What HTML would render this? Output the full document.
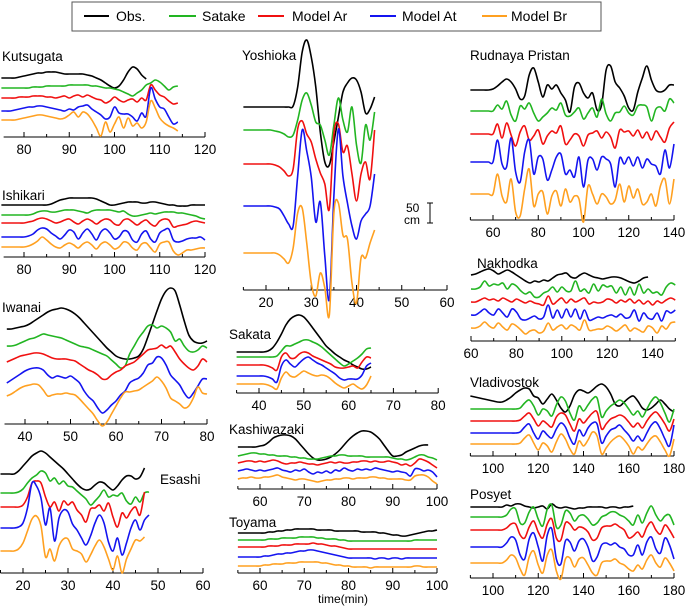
<!DOCTYPE html>
<html><head><meta charset="utf-8"><style>
html,body{margin:0;padding:0;background:#fff;}
svg{display:block;font-family:"Liberation Sans",sans-serif;}
</style></head><body>
<svg id="chart" width="685" height="606" viewBox="0 0 685 606" xmlns="http://www.w3.org/2000/svg">
<g>
<rect x="72" y="2" width="529" height="29" fill="#fff" stroke="#555" stroke-width="1"/>
<g><line x1="84" y1="16" x2="109" y2="16" stroke="#000" stroke-width="2"/><text x="116" y="21" font-size="14">Obs.</text></g>
<g><line x1="169" y1="16" x2="196" y2="16" stroke="#22b522" stroke-width="2"/><text x="202" y="21" font-size="14">Satake</text></g>
<g><line x1="258" y1="16" x2="284" y2="16" stroke="#f01010" stroke-width="2"/><text x="292" y="21" font-size="14">Model Ar</text></g>
<g><line x1="370" y1="16" x2="396" y2="16" stroke="#1414f0" stroke-width="2"/><text x="402" y="21" font-size="14">Model At</text></g>
<g><line x1="482" y1="16" x2="507" y2="16" stroke="#ffa020" stroke-width="2"/><text x="511" y="21" font-size="14">Model Br</text></g>
</g>
<g>
<line x1="430" y1="203" x2="430" y2="223" stroke="#000" stroke-width="1"/>
<line x1="427" y1="203" x2="433" y2="203" stroke="#000" stroke-width="1"/>
<line x1="427" y1="223" x2="433" y2="223" stroke="#000" stroke-width="1"/>
<text x="406" y="212" font-size="12">50</text><text x="404" y="224" font-size="12">cm</text>
</g>
<text x="343" y="603" font-size="12" text-anchor="middle">time(min)</text>
</svg>
<script>
// ---------- data (amplitude, arbitrary units; 1 unit ≈ 1 px) ----------
const kutsugataT0 = 75, kutsugataDt = 1;
const kutsugataObs = [0,0,0,0,1,2,3,4,5,5,6,6,6,5,4,4,4,4,4,3,2,0,-2,-5,-8,-10,-8,-2,6,11,9,3,-1];
const kutsugataSatake = [0,0,0,0,0,0,0,1,1,1,2,2,2,2,2,3,3,3,3,3,2,2,1,0,0,-1,-2,-4,-6,-8,-5,-2,3,5,8,6,2,-2,1,2];
const kutsugataAr = [0,0,0,0,1,1,1,2,2,2,1,1,0,1,2,0,2,3,1,3,1,-1,-2,-5,-3,1,-2,-4,-2,-1,-4,0,-2,13,8,3,1,-3,-6,-5];
const kutsugataAt = [0,0,0,1,2,3,4,4,5,5,4,3,2,1,0,2,1,4,5,6,2,-1,-4,-8,-6,4,-2,-3,-3,-6,-10,-2,-5,23,12,4,2,-6,-13,-11];
const kutsugataBr = [0,0,0,0,1,2,3,4,5,5,4,3,2,1,2,5,8,3,8,6,0,-8,-16,-2,-12,-4,3,-8,2,-6,-3,-8,-2,19,12,2,-3,-6,-8,-11];

const ishikariT0 = 75, ishikariDt = 1;
const ishikariObs = [0,0,0,0,0,0,0,0,0,0,0,1,3,5,6,7,7,7,7,7,7,6,4,2,0,0,1,2,3,3,3,2,2,3,3,2,1,0,0,-1,-1,-1,0,0,0,0];
const ishikariSatake = [0,0,0,0,0,0,0,1,3,4,4,3,3,4,5,5,5,4,3,2,4,5,5,5,5,4,3,4,1,-1,-1,0,1,2,1,2,3,3,3,2,2,1,0,-1,-3,-4];
const ishikariAr = [0,0,0,0,0,0,1,2,4,5,4,2,0,1,3,4,1,-1,2,4,2,-1,2,4,3,-1,-2,3,4,1,-2,1,3,-1,-3,2,4,3,-4,-3,-2,-1,1,2,1,0];
const ishikariAt = [0,0,0,0,0,0,1,3,7,9,8,4,1,-2,2,7,5,-2,4,8,3,-3,5,8,4,-2,0,6,5,-3,-5,3,6,-2,-5,4,7,8,-3,-5,-4,-2,-1,-1,0,-3];
const ishikariBr = [0,0,0,0,0,0,1,3,6,10,7,3,0,-1,2,4,2,-1,3,5,2,-2,3,5,2,-2,0,5,4,-1,-3,3,4,-1,-5,3,5,5,-4,-8,-6,-3,-3,-2,-1,-1];

const iwanaiT0 = 36, iwanaiDt = 1;
const iwanaiObs = [0,0,1,2,3,5,8,11,14,17,19,20,21,20,18,15,11,6,1,-4,-9,-14,-19,-23,-27,-29,-30,-30,-29,-27,-20,-8,5,18,30,38,41,38,24,8,-6,-12,-14,-14,-12];
const iwanaiSatake = [0,0,1,3,5,7,8,10,12,11,10,9,8,6,4,2,0,-1,-2,-4,-6,-8,-10,-14,-18,-22,-20,-8,0,8,14,20,21,18,20,18,14,5,7,0,-5,-6,-4,0,-2];
const iwanaiAr = [0,2,4,6,7,8,9,9,8,6,4,3,3,3,2,1,-2,-5,-8,-10,-13,-17,-17,-13,-10,-8,-4,-2,0,4,8,12,13,14,17,14,16,10,3,-2,-6,-8,-4,3,0];
const iwanaiAt = [0,3,6,9,12,14,15,15,13,8,5,7,6,5,7,4,0,-8,-14,-18,-25,-30,-27,-22,-18,-12,-8,0,3,5,10,18,20,26,25,18,8,3,-2,-10,-15,-10,-3,4,4];
const iwanaiBr = [0,2,5,8,10,11,12,11,6,0,1,2,2,3,2,1,-3,-8,-13,-18,-25,-30,-26,-18,-10,-2,4,4,5,6,9,12,15,19,15,8,-2,-5,-8,-12,-10,-2,9,3,2];

const esashiT0 = 15, esashiDt = 1;
const esashiObs = [0,0,0,0,3,8,13,18,21,23,21,17,13,9,5,0,-5,-10,-14,-16,-15,-11,-8,-9,-13,-16,-12,-6,-2,-2,-5,-3,6];
const esashiSatake = [0,0,0,0,1,4,10,15,18,22,20,12,15,9,12,7,6,2,-2,-6,-12,-8,-3,3,-4,-2,-3,0,-8,-11,-4,-9,0,1];
const esashiAr = [0,0,0,0,0,2,10,24,26,24,10,0,5,-4,6,2,5,-3,-8,-15,-2,-1,2,-4,4,-10,-20,-6,-11,-4,0,-8,15];
const esashiAt = [0,0,0,0,1,5,20,45,42,30,3,20,-13,10,18,16,4,-2,-10,-17,-8,5,13,5,-14,-23,-10,-27,-15,0,8,-2,8,13];
const esashiBr = [0,0,0,0,2,8,20,32,35,25,-6,2,-10,5,12,12,2,0,-3,-11,-4,5,11,4,-8,-19,-5,-22,-8,2,11,10,14];

const yoshiokaT0 = 15, yoshiokaDt = 1;
const yoshiokaObs = [0,0,0,0,0,0,0,0,0,0,0,1,20,55,67,50,20,-25,-55,-58,-35,-10,15,24,29,27,15,-6,-2,10];
const yoshiokaSatake = [0,0,0,0,0,0,0,-1,-2,-4,-7,-5,10,30,37,25,8,5,-10,-25,5,32,10,-2,23,-15,-33,5,-10,18];
const yoshiokaAr = [0,0,0,0,0,0,0,-1,-3,-7,-12,-5,35,43,30,22,5,-9,-20,-45,30,40,12,18,-10,-37,-10,2,-15,34];
const yoshiokaAt = [0,0,0,0,0,0,0,-1,-3,-10,-18,-20,30,76,55,29,-16,4,-50,-93,10,77,30,3,-20,-33,-15,-8,0,32];
const yoshiokaBr = [0,0,0,0,0,0,0,0,-2,-6,-10,5,40,45,10,-30,-43,-20,-35,-62,40,50,18,14,-30,-50,-5,-5,10,23];

const sakataT0 = 35, sakataDt = 1;
const sakataObs = [0,0,0,0,0,0,0,1,4,10,18,27,33,36,37,35,30,24,18,12,6,2,-2,-5,-8,-10,-13,-15,-17,-17,-15];
const sakataSatake = [0,0,0,0,0,0,0,0,0,1,6,11,11,13,15,17,17,15,13,10,6,2,-2,-6,-9,-7,-4,-1,3,8,9];
const sakataAr = [0,0,0,0,0,0,0,-1,-3,-5,8,12,7,7,11,13,12,9,7,5,3,1,-2,-3,-3,-2,-1,-3,3,8,7];
const sakataAt = [0,0,0,0,0,0,0,-1,-3,-6,10,16,12,9,13,17,19,16,13,11,8,5,2,-2,-4,-3,-3,-3,1,10,13];
const sakataBr = [0,0,0,0,0,0,0,-1,-3,-5,6,12,8,7,10,13,11,9,8,9,8,5,1,-2,-4,-2,0,-3,-5,-1,8];

const kashiwazakiT0 = 55, kashiwazakiDt = 1;
const kashiwazakiObs = [0,0,0,0,0,1,2,5,9,11,12,12,11,8,3,-2,-7,-11,-13,-13,-12,-10,-7,-3,2,7,11,14,16,16,15,12,8,2,-4,-9,-9,-8,-5,-3,-1,1,2,2];
const kashiwazakiSatake = [0,1,2,3,3,2,2,1,1,0,0,0,-1,-1,-2,-2,-3,-3,-3,-2,-1,0,0,1,1,0,0,0,0,-1,-1,-1,-1,-1,-1,-2,-3,-3,-4,-3,-1,1,1,-1,-2,-4];
const kashiwazakiAr = [0,1,2,2,1,2,1,2,3,2,0,-1,0,0,1,0,-1,-1,-2,-1,0,1,0,1,0,0,1,1,2,2,1,2,1,1,2,1,0,-2,-1,-3,0,4,3,1,-2,-5];
const kashiwazakiAt = [0,1,2,1,0,1,0,1,2,3,1,0,-1,1,0,2,-1,-3,-1,-2,0,-2,1,0,3,1,0,2,1,2,1,3,2,1,0,-1,0,-1,-2,-5,2,2,0,1,-1,-6];
const kashiwazakiBr = [0,1,1,2,1,1,2,2,3,4,2,1,0,-1,0,0,-1,-2,-3,-2,-1,-1,0,0,1,1,0,1,1,1,2,2,1,1,0,0,0,0,-1,-1,3,4,4,2,-2,-5];

const toyamaT0 = 55, toyamaDt = 1;
const toyamaObs = [0,0,0,0,0,0,0,1,1,2,2,3,3,4,4,4,4,4,3,3,3,3,2,2,2,2,2,2,1,1,1,1,0,0,-1,-2,-2,-3,-3,-2,-1,0,1,2,2,3];
const toyamaSatake = [0,0,0,0,0,0,0,1,1,1,2,2,2,2,3,3,3,3,2,2,1,1,1,0,0,-1,-1,-1,-1,-1,-1,-1,-1,-1,-1,-1,-1,-1,-1,-1,0,0,0,0,0,0];
const toyamaAr = [0,0,0,0,0,0,0,1,1,1,2,2,2,3,3,3,3,4,3,3,2,1,1,0,-1,-2,-2,-2,-2,-2,-2,-2,-2,-2,-2,-2,-2,-2,-2,-2,-2,-2,-2,-2,-2,-2];
const toyamaAt = [0,0,0,0,0,0,1,1,2,3,3,4,4,5,6,6,7,7,6,5,4,3,2,1,0,-1,-1,-1,-1,-1,-1,-2,-1,-1,-2,-1,-1,-2,-1,-1,-1,-1,-1,-1,-1,-1];
const toyamaBr = [0,0,0,0,0,0,1,1,2,2,2,3,3,3,4,4,4,4,4,3,3,2,1,1,0,0,-1,-1,-1,-1,-2,-1,-1,-1,-1,-1,-1,-1,-1,-1,0,0,-1,-1,-1,-1];

const rudnayaT0 = 50, rudnayaDt = 2;
const rudnayaObs = [0,0,0,0,0,1,4,8,11,8,1,-9,-6,15,22,8,-7,5,1,5,-3,-10,-22,3,7,-3,-8,-3,-20,-15,20,24,8,2,-6,-18,-20,-2,12,24,10,0,-2,0,5,5];
const rudnayaSatake = [0,0,0,0,0,0,6,2,10,-4,-10,5,2,8,-2,-10,-6,-2,3,1,8,-4,-5,-1,3,-8,-2,3,-6,12,-3,-10,-2,-1,5,-2,-4,5,6,4,-10,2,4,0,12,8];
const rudnayaAr = [0,0,0,0,0,0,10,-4,11,-1,-12,2,8,-6,-2,4,-10,-2,3,1,8,-10,-6,0,-2,-12,-1,1,3,-4,2,-3,-14,4,2,3,-2,4,-4,2,-6,3,-3,-8,6,12];
const rudnayaAt = [0,0,0,0,0,0,22,-2,-5,24,-10,-20,10,22,-12,5,3,-18,-8,5,8,-12,-8,-15,5,-25,2,3,-8,5,3,-2,-25,4,-2,5,-4,5,-6,3,-2,-4,-12,12,-6,18];
const rudnayaBr = [0,0,0,0,0,0,20,-2,-8,15,-18,-22,5,25,-12,0,2,-20,-2,3,-12,5,-8,-2,-5,-28,8,0,-10,0,-3,-10,-6,10,-8,8,-4,5,-10,-8,0,-12,8,15,-10,15];

const nakhodkaT0 = 60, nakhodkaDt = 2;
const nakhodkaObs = [0,1,3,5,6,4,1,3,5,3,0,-3,-6,-8,-6,-7,-5,-6,-3,0,1,2,-2,-3,0,2,0,-2,-3,-4,-3,-2,-2,-3,-5,-7,-8,-6,-3,-2];
const nakhodkaSatake = [0,0,2,8,3,5,4,6,0,5,3,-2,-5,-3,-8,-8,-4,-2,2,-3,2,-2,-2,8,-2,0,-4,5,-2,4,2,3,-4,2,-6,2,-6,5,-4,0,-4,-3,-6,2,6,4];
const nakhodkaAr = [0,0,2,4,2,3,1,4,2,0,3,1,-1,1,-1,-2,-3,6,-2,1,4,-1,3,0,2,4,-2,0,-1,0,3,2,-1,2,0,3,-1,2,-2,1,-3,1,-1,2,4,2];
const nakhodkaAt = [0,0,3,6,2,0,6,2,-2,6,3,-4,-5,-3,-1,-4,-2,10,-3,5,-3,6,-2,6,-4,5,-5,-4,-2,-3,-1,0,-2,1,-3,-2,5,-6,2,-3,-4,2,-6,4,2,5];
const nakhodkaBr = [0,0,2,6,2,0,5,1,-2,4,2,-2,-6,-3,-2,-5,-3,5,-2,1,3,-1,3,1,-2,8,-2,-2,-1,-1,2,0,-3,0,3,-3,0,-2,-4,2,0,-5,2,-1,5,6];

const vladivostokT0 = 90, vladivostokDt = 2;
const vladivostokObs = [0,-1,-2,-3,-4,-5,-6,-6,-4,-1,3,6,8,7,0,-2,-8,-3,2,-4,-12,-16,-10,1,6,5,3,6,10,12,9,2,-8,-10,-6,-2,0,-5,-12,-14,-12,-8,-4,-8,-13,-16];
const vladivostokSatake = [0,0,0,0,0,0,0,0,0,0,0,1,6,9,3,-6,0,-2,-7,4,12,8,-4,-11,3,-2,4,10,11,-8,-2,3,6,9,6,0,-6,-2,-8,0,8,12,6,-4,-13,0];
const vladivostokAr = [0,0,0,0,0,0,0,0,0,0,0,1,5,8,2,-5,0,-3,-6,4,8,6,-3,-10,2,-2,3,8,9,-8,-3,2,4,6,4,-1,-6,-2,-7,0,6,9,4,-3,-10,2];
const vladivostokAt = [0,0,0,0,0,0,0,0,0,0,0,1,6,9,0,-6,2,-2,-5,4,10,6,-5,-11,3,-3,5,10,9,-10,-3,3,5,8,3,-2,-8,-3,-8,0,8,11,4,-6,-13,8];
const vladivostokBr = [0,0,0,0,0,0,0,0,0,0,0,1,6,9,1,-6,1,-2,-8,2,10,5,-5,-10,3,-2,4,12,8,-10,-4,2,6,8,4,-2,-10,-3,-6,0,6,8,2,-6,-12,5];

const posyetT0 = 90, posyetDt = 2;
const posyetObs = [0,0,0,0,0,0,0,0,2,1,3,3,1,0,-1,0,1,-2,3,0,-1,0,-1,-2,-1,-1,0,0,0,0,-1,0,0,-1,0,0,1];
const posyetSatake = [0,0,0,0,0,0,0,0,2,8,8,-6,-6,5,10,-2,-9,8,12,-10,-8,6,4,-4,1,2,-2,-8,-6,0,2,5,5,2,0,-4,-8,2,-6,4,11,2,-4,1,2,-8];
const posyetAr = [0,0,0,0,0,0,0,0,2,6,6,-5,-8,3,9,-2,-8,6,11,-8,-10,7,6,0,3,2,-2,-10,-8,2,4,4,6,3,0,-8,-6,-2,-7,3,8,0,-4,5,0,-8];
const posyetAt = [0,0,0,0,0,0,0,0,4,10,7,-8,-12,8,14,0,-14,12,18,-12,-17,6,5,-4,6,8,0,-14,-10,2,4,2,4,0,-2,-8,-8,2,-8,5,10,-2,-6,9,2,-12];
const posyetBr = [0,0,0,0,0,0,0,0,3,8,5,-6,-12,6,12,-2,-10,8,13,-8,-16,4,5,-4,4,5,-2,-10,-12,0,2,2,4,0,-2,-6,-8,-2,-6,3,8,0,-4,5,0,-8];

// ---------- layout ----------
const COLORS = {obs:"#000000", satake:"#22b522", ar:"#f01010", at:"#1414f0", br:"#ffa020"};
const panels = [
 {id:"kutsugata", title:"Kutsugata", tx:2, ty:61, t0:kutsugataT0, dt:kutsugataDt, ref:80, refX:24, k:4.525, axMin:75.5, axMax:120, axY:137, lab:10, minor:5,
  base:{obs:78,satake:88,ar:98,at:111,br:120}, data:{obs:kutsugataObs,satake:kutsugataSatake,ar:kutsugataAr,at:kutsugataAt,br:kutsugataBr}},
 {id:"ishikari", title:"Ishikari", tx:2, ty:200, t0:ishikariT0, dt:ishikariDt, ref:80, refX:24, k:4.525, axMin:75.5, axMax:120, axY:257, lab:10, minor:5,
  base:{obs:205,satake:215,ar:223,at:237,br:247}, data:{obs:ishikariObs,satake:ishikariSatake,ar:ishikariAr,at:ishikariAt,br:ishikariBr}},
 {id:"iwanai", title:"Iwanai", tx:2, ty:312, t0:iwanaiT0, dt:iwanaiDt, ref:40, refX:25, k:4.55, axMin:35.5, axMax:80, axY:424, lab:10, minor:5,
  base:{obs:329,satake:346,ar:362,at:383,br:396}, data:{obs:iwanaiObs,satake:iwanaiSatake,ar:iwanaiAr,at:iwanaiAt,br:iwanaiBr}},
 {id:"esashi", title:"Esashi", tx:160, ty:484, t0:esashiT0, dt:esashiDt, ref:20, refX:23, k:4.5, axMin:15, axMax:60, axY:573, lab:10, minor:5,
  base:{obs:474,satake:493,ar:507,at:528,br:551}, data:{obs:esashiObs,satake:esashiSatake,ar:esashiAr,at:esashiAt,br:esashiBr}},
 {id:"yoshioka", title:"Yoshioka", tx:242, ty:60, t0:yoshiokaT0, dt:yoshiokaDt, ref:20, refX:266, k:4.525, axMin:15, axMax:60, axY:290, lab:10, minor:5,
  base:{obs:107,satake:130,ar:164,at:206,br:253}, data:{obs:yoshiokaObs,satake:yoshiokaSatake,ar:yoshiokaAr,at:yoshiokaAt,br:yoshiokaBr}},
 {id:"sakata", title:"Sakata", tx:229, ty:339, t0:sakataT0, dt:sakataDt, ref:40, refX:259, k:4.48, axMin:35, axMax:80, axY:393, lab:10, minor:5,
  base:{obs:352,satake:357,ar:365,at:376,br:384}, data:{obs:sakataObs,satake:sakataSatake,ar:sakataAr,at:sakataAt,br:sakataBr}},
 {id:"kashiwazaki", title:"Kashiwazaki", tx:229, ty:434, t0:kashiwazakiT0, dt:kashiwazakiDt, ref:60, refX:260, k:4.425, axMin:55, axMax:100, axY:489, lab:10, minor:5,
  base:{obs:447,satake:456,ar:463,at:471,br:479}, data:{obs:kashiwazakiObs,satake:kashiwazakiSatake,ar:kashiwazakiAr,at:kashiwazakiAt,br:kashiwazakiBr}},
 {id:"toyama", title:"Toyama", tx:229, ty:527, t0:toyamaT0, dt:toyamaDt, ref:60, refX:260, k:4.425, axMin:55, axMax:100, axY:573, lab:10, minor:5,
  base:{obs:533,satake:540,ar:547,at:557,br:566}, data:{obs:toyamaObs,satake:toyamaSatake,ar:toyamaAr,at:toyamaAt,br:toyamaBr}},
 {id:"rudnaya-pristan", title:"Rudnaya Pristan", tx:470, ty:60, t0:rudnayaT0, dt:rudnayaDt, ref:60, refX:493, k:2.2625, axMin:50, axMax:140, axY:220, lab:20, minor:10,
  base:{obs:90,satake:111,ar:134,at:162,br:194}, data:{obs:rudnayaObs,satake:rudnayaSatake,ar:rudnayaAr,at:rudnayaAt,br:rudnayaBr}},
 {id:"nakhodka", title:"Nakhodka", tx:477, ty:268, t0:nakhodkaT0, dt:nakhodkaDt, ref:60, refX:471, k:2.27, axMin:60, axMax:150, axY:341, lab:20, minor:10,
  base:{obs:275,satake:289,ar:302,at:315,br:328}, data:{obs:nakhodkaObs,satake:nakhodkaSatake,ar:nakhodkaAr,at:nakhodkaAt,br:nakhodkaBr}},
 {id:"vladivostok", title:"Vladivostok", tx:470, ty:387, t0:vladivostokT0, dt:vladivostokDt, ref:100, refX:493, k:2.2625, axMin:90, axMax:180, axY:456, lab:20, minor:10,
  base:{obs:396,satake:409,ar:421,at:433,br:444}, data:{obs:vladivostokObs,satake:vladivostokSatake,ar:vladivostokAr,at:vladivostokAt,br:vladivostokBr}},
 {id:"posyet", title:"Posyet", tx:470, ty:499, t0:posyetT0, dt:posyetDt, ref:100, refX:493, k:2.2625, axMin:90, axMax:180, axY:578, lab:20, minor:10,
  base:{obs:507,satake:517,ar:530,at:547,br:563}, data:{obs:posyetObs,satake:posyetSatake,ar:posyetAr,at:posyetAt,br:posyetBr}}
];
const NS = "http://www.w3.org/2000/svg";
const svg = document.getElementById("chart");
function mk(tag, attrs){ const e=document.createElementNS(NS,tag); for(const k in attrs) e.setAttribute(k,attrs[k]); return e; }
function smoothPath(pts){
  if(pts.length<2) return "";
  let d="M"+pts[0][0].toFixed(2)+","+pts[0][1].toFixed(2);
  for(let i=0;i<pts.length-1;i++){
    const p0=pts[Math.max(0,i-1)], p1=pts[i], p2=pts[i+1], p3=pts[Math.min(pts.length-1,i+2)];
    const c1x=p1[0]+(p2[0]-p0[0])/6, c1y=p1[1]+(p2[1]-p0[1])/6;
    const c2x=p2[0]-(p3[0]-p1[0])/6, c2y=p2[1]-(p3[1]-p1[1])/6;
    d+=" C"+c1x.toFixed(2)+","+c1y.toFixed(2)+" "+c2x.toFixed(2)+","+c2y.toFixed(2)+" "+p2[0].toFixed(2)+","+p2[1].toFixed(2);
  }
  return d;
}
panels.forEach(p=>{
  const xOf = t => p.refX + (t - p.ref) * p.k;
  const yOf = (series, v) => p.base[series] - v;
  const g = mk("g",{});
  
  
  svg.appendChild(g);
  const title = mk("text",{x:p.tx, y:p.ty, "font-size":"13.5"});
  
  
  title.textContent = p.title;
  g.appendChild(title);
  const ax = mk("g",{});
  
  
  g.appendChild(ax);
  ax.appendChild(mk("line",{x1:xOf(p.axMin), y1:p.axY, x2:xOf(p.axMax), y2:p.axY, stroke:"#000", "stroke-width":"1"}));
  const startT = Math.ceil(p.axMin / p.minor) * p.minor;
  for(let t=startT; t<=p.axMax+0.001; t+=p.minor){
    const major = Math.abs(t/p.lab - Math.round(t/p.lab))<1e-6;
    ax.appendChild(mk("line",{x1:xOf(t), y1:p.axY-(major?5:3), x2:xOf(t), y2:p.axY, stroke:"#000", "stroke-width":"1"}));
    if(major){
      const lb = mk("text",{x:xOf(t), y:p.axY+17, "font-size":"13.5", "text-anchor":"middle"});
      
      
      lb.textContent = String(t);
      ax.appendChild(lb);
    }
  }
  ["obs","satake","ar","at","br"].forEach(s=>{
    const vals = p.data[s];
    const pts = vals.map((v,i)=>[xOf(p.t0 + i*p.dt), yOf(s, v)]);
    const path = mk("path",{d:smoothPath(pts), fill:"none", stroke:COLORS[s], "stroke-width":"1.6", "stroke-linejoin":"round"});
    
    
    g.appendChild(path);
  });
});
</script>
</body></html>
